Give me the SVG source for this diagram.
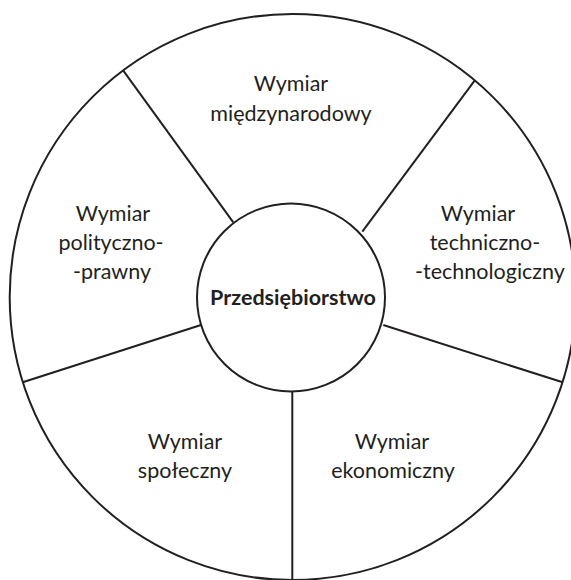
<svg xmlns="http://www.w3.org/2000/svg" width="571" height="580" viewBox="0 0 571 580">
  <style>
    .ring { fill: #ffffff; stroke: #231f20; stroke-width: 2; }
    .spoke { stroke: #231f20; stroke-width: 2; fill: none; }
    .lbl { font-family: Lato, "Liberation Sans", sans-serif; font-size: 21.5px; fill: #231f20; text-anchor: middle; }
    .core { font-family: Lato, "Liberation Sans", sans-serif; font-size: 21.5px; font-weight: bold; fill: #231f20; text-anchor: middle; }
  </style>

  <!-- outer wheel -->
  <circle class="ring" cx="292.7" cy="297" r="283"/>

  <!-- dividers between the sectors -->
  <g id="connectors">
    <line class="spoke" x1="233.3" y1="222.3" x2="123.3" y2="70.7"/>
    <line class="spoke" x1="362.3" y1="231.7" x2="474.8" y2="80.4"/>
    <line class="spoke" x1="201" y1="325" x2="22.7" y2="382.3"/>
    <line class="spoke" x1="383.3" y1="325" x2="562.7" y2="382.3"/>
    <line class="spoke" x1="292.3" y1="392" x2="292.3" y2="582"/>
  </g>

  <g id="hub">
    <circle class="ring" cx="291" cy="297.5" r="94"/>
    <text class="core" x="293" y="305">Przedsiębiorstwo</text>
  </g>

  <g id="dim-international">
    <text class="lbl" x="291" y="91">Wymiar</text>
    <text class="lbl" x="291" y="121">międzynarodowy</text>
  </g>

  <g id="dim-political">
    <text class="lbl" x="113" y="221">Wymiar</text>
    <text class="lbl" x="111" y="250">polityczno-</text>
    <text class="lbl" x="112" y="279">-prawny</text>
  </g>

  <g id="dim-technical">
    <text class="lbl" x="478" y="221">Wymiar</text>
    <text class="lbl" x="485" y="250">techniczno-</text>
    <text class="lbl" x="490" y="279">-technologiczny</text>
  </g>

  <g id="dim-social">
    <text class="lbl" x="185" y="449">Wymiar</text>
    <text class="lbl" x="185" y="478">społeczny</text>
  </g>

  <g id="dim-economic">
    <text class="lbl" x="392" y="449">Wymiar</text>
    <text class="lbl" x="393" y="478">ekonomiczny</text>
  </g>
</svg>
